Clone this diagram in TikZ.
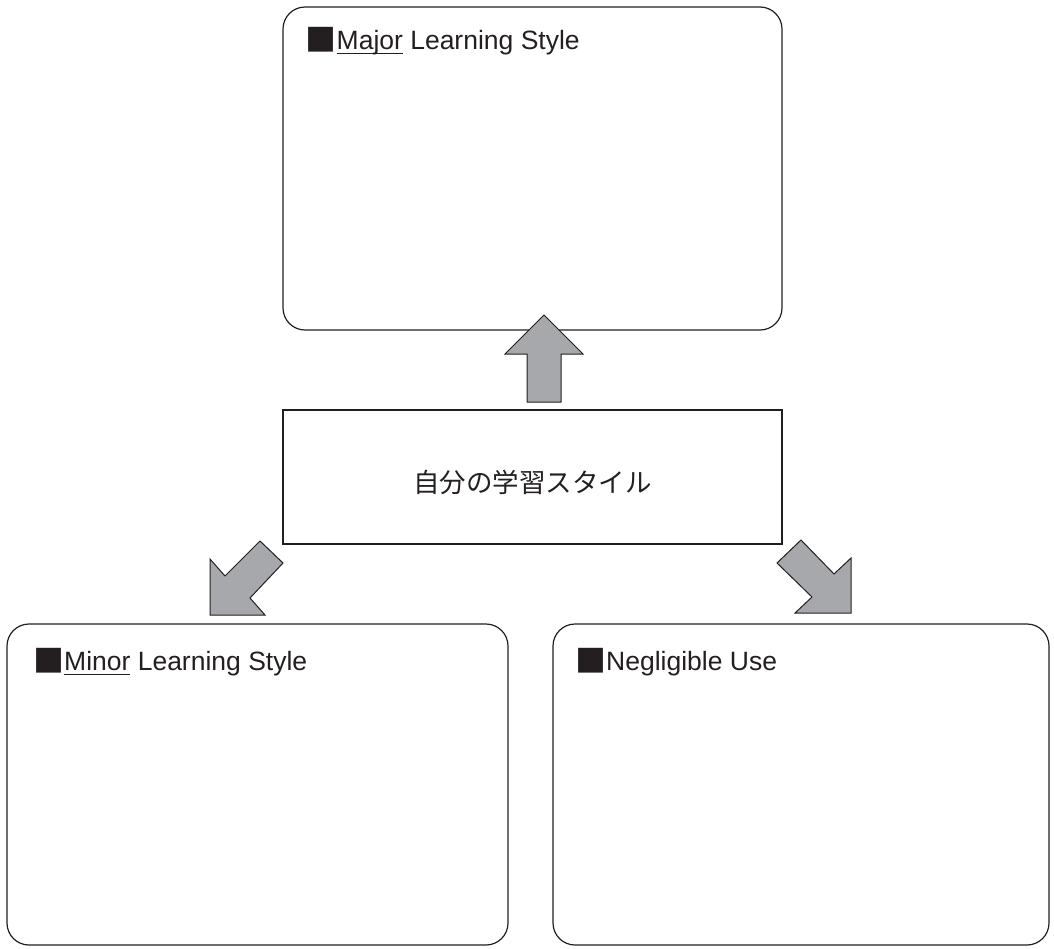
\documentclass[tikz,border=0pt]{standalone}
\usepackage{fontspec}
\setmainfont{Liberation Sans}
\newfontfamily\cjk{Noto Sans CJK JP}
\definecolor{arrowgray}{HTML}{A7A8AB}
\definecolor{linegray}{HTML}{231F20}
\newcommand\myul[1]{\setbox0\hbox{#1}\rlap{\rule[-5pt]{\wd0}{1.3pt}}\box0\relax}
\newcommand\blacksq{{\cjk\fontsize{31}{31}\selectfont\raisebox{-2.5pt}{\textcolor{linegray}{■}}}}
\begin{document}
\begin{tikzpicture}[x=1pt,y=-1pt,
  roundbox/.style={draw=linegray,line width=1.2pt,rounded corners=22pt},
  flatbox/.style={draw=linegray,line width=1.1pt},
  blockarrow/.style={draw=linegray,line width=1pt,fill=arrowgray,line join=miter},
  title/.style={anchor=base west,inner sep=0pt,text=linegray,font=\fontsize{26.5}{30}\selectfont}]
\useasboundingbox (0,0) rectangle (1054,948);
% boxes
\draw[roundbox] (283,7) rectangle (782,330);
\draw[flatbox] (283,410) rectangle (782,544);
\node[font=\cjk\fontsize{26.5}{30}\selectfont,inner sep=0pt,text=linegray] (self) at (532.5,482) {自分の学習スタイル};
\draw[roundbox] (7,624) rectangle (508,945);
\draw[roundbox] (553,624) rectangle (1049,945);
% titles
\node[title] (tmajor) at (305.5,49) {\blacksq\myul{Major} Learning Style};
\node[title] (tminor) at (33,670) {\blacksq\myul{Minor} Learning Style};
\node[title] (tneg) at (575,670) {\blacksq Negligible Use};
% block arrows
\draw[blockarrow] (544,315) -- (583,354) -- (561,354) -- (561,402) -- (527,402) -- (527,354) -- (505,354) -- cycle;
\draw[blockarrow] (210,615) -- (210,559) -- (225,576) -- (260,541) -- (283,563) -- (250,598) -- (265,615) -- cycle;
\draw[blockarrow] (851,613) -- (851,558) -- (834,574) -- (801,540) -- (777,563) -- (812,597) -- (795,613) -- cycle;
\end{tikzpicture}
\end{document}
